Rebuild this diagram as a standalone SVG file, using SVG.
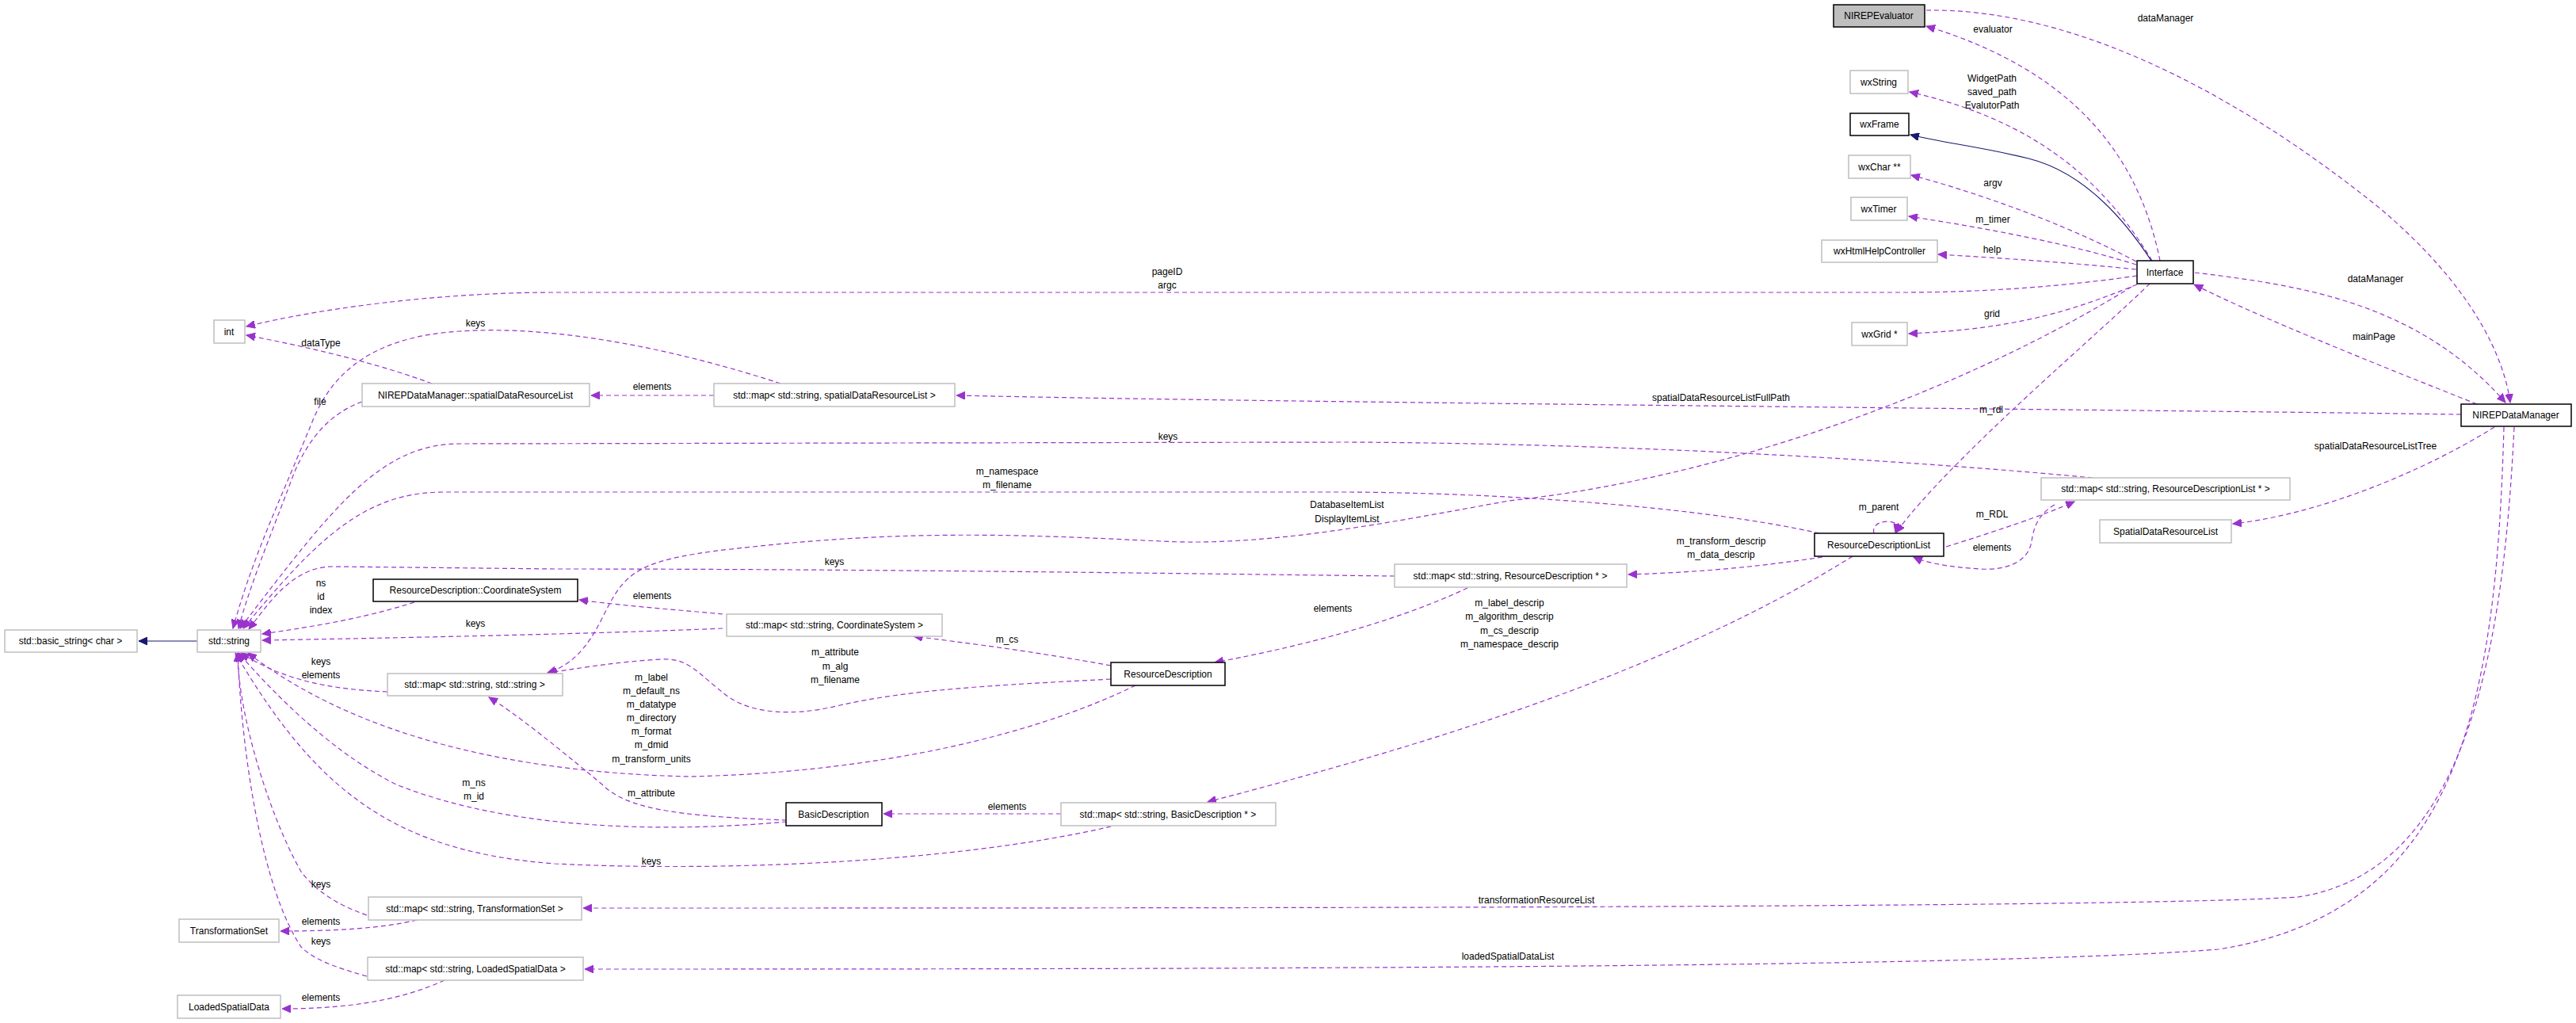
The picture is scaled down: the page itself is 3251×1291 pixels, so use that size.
<svg xmlns="http://www.w3.org/2000/svg" width="3251" height="1291" viewBox="0 0 3251 1291">
<style>
text{font-family:"Liberation Sans",Arial,sans-serif;font-size:12px;fill:#000;text-anchor:middle}
.n rect{fill:#fff;stroke:#bfbfbf;stroke-width:1.5}
.b rect{fill:#fff;stroke:#000;stroke-width:1.5}
.g rect{fill:#bfbfbf;stroke:#000;stroke-width:1.5}
.e path{fill:none;stroke:#9a32cd;stroke-width:1.2;stroke-dasharray:6,4;marker-end:url(#ap)}
.e path.s{stroke:#191970;stroke-dasharray:none;marker-end:url(#an)}
</style>
<defs>
<marker id="ap" markerUnits="userSpaceOnUse" markerWidth="12" markerHeight="10" refX="11" refY="5" orient="auto"><path d="M0,0 L11,5 L0,10 Z" fill="#9a32cd" stroke="#9a32cd"/></marker>
<marker id="an" markerUnits="userSpaceOnUse" markerWidth="12" markerHeight="10" refX="11" refY="5" orient="auto"><path d="M0,0 L11,5 L0,10 Z" fill="#191970" stroke="#191970"/></marker>
</defs>
<rect width="3251" height="1291" fill="#fff"/>
<g id="connectors" class="e">
<path d="M2726,329 C2700,200 2620,90 2431,33"/>
<path d="M2431,13 C2600,10 2800,100 3000,260 C3120,360 3160,450 3168,508"/>
<path d="M2716,329 C2650,220 2560,150 2410,116"/>
<path class="s" d="M2715,329 C2670,260 2620,215 2560,200 C2500,185 2450,180 2411,170"/>
<path d="M2696,330 C2620,290 2520,250 2412,221"/>
<path d="M2696,334 C2620,310 2520,290 2409,273"/>
<path d="M2696,340 C2620,332 2530,326 2446,321"/>
<path d="M2697,348 C2600,362 2500,369 2400,369 L700,369 C550,369 400,390 311,412"/>
<path d="M2697,359 C2620,390 2550,415 2409,421"/>
<path d="M2713,358 C2650,420 2460,580 2393,672"/>
<path d="M2690,362 C2500,480 2200,600 1904,632 C1750,660 1600,690 1465,683 C1300,675 1150,668 950,690 C800,705 790,720 760,780 C740,820 720,840 691,849"/>
<path d="M3126,510 C3000,460 2850,400 2769,359"/>
<path d="M2770,344 C2900,360 3050,380 3162,508"/>
<path d="M3106,523 C2700,517 1600,508 1207,499"/>
<path d="M901,499 L746,499"/>
<path d="M985,484 C850,440 700,410 580,418 C470,425 420,470 395,530 C350,640 320,700 294,793"/>
<path d="M545,484 C480,460 400,440 311,423"/>
<path d="M457,507 C420,520 390,550 370,600 C340,680 315,740 301,793"/>
<path d="M2641,603 C2450,585 2100,560 1700,558 L580,560 C480,560 420,640 303,793"/>
<path d="M2296,673 C2150,640 1900,622 1700,621 L560,621 C460,621 400,680 307,793"/>
<path d="M1760,727 C1500,724 1100,718 700,718 L420,715 C370,715 340,760 314,794"/>
<path d="M523,760 C460,780 400,790 331,800"/>
<path d="M912,793 C750,800 500,805 331,808"/>
<path d="M912,775 C860,770 790,765 731,757"/>
<path d="M1402,840 C1320,825 1250,815 1153,803"/>
<path d="M1402,857 C1250,865 1150,870 1060,890 C1000,905 950,900 920,880 C880,850 870,830 835,832 C780,835 740,842 692,849"/>
<path d="M1433,865 C1300,930 1100,975 870,980 C650,975 450,930 313,824"/>
<path d="M993,1035 C850,1030 790,1020 760,990 C700,940 650,900 617,880"/>
<path d="M993,1037 C850,1050 650,1050 500,990 C420,950 350,880 301,824"/>
<path d="M1339,1027 L1115,1027"/>
<path d="M1402,1043 C1200,1090 900,1100 700,1090 C500,1075 400,1000 297,824"/>
<path d="M489,873 C420,870 360,860 304,824"/>
<path d="M2338,702 C2100,850 1800,940 1524,1012"/>
<path d="M2300,703 C2220,715 2150,722 2055,725"/>
<path d="M1852,742 C1750,790 1620,820 1533,836"/>
<path d="M2365,673 C2360,655 2395,655 2394,664 L2392,672"/>
<path d="M2456,690 C2520,670 2580,650 2618,633"/>
<path d="M2593,637 C2570,650 2566,670 2564,683 C2560,710 2530,720 2500,718 C2460,716 2430,710 2415,703"/>
<path d="M3148,539 C3050,600 2920,650 2818,661"/>
<path d="M3173,539 C3160,800 3120,1100 2900,1132 C2700,1146 1500,1146 736,1146"/>
<path d="M3160,539 C3150,900 3100,1150 2800,1198 C2500,1222 1500,1223 738,1223"/>
<path d="M463,1155 C420,1140 395,1120 380,1100 C340,1030 300,900 300,824"/>
<path d="M526,1161 C480,1172 420,1175 354,1175"/>
<path d="M463,1232 C420,1220 395,1210 380,1195 C330,1120 305,950 300,824"/>
<path d="M561,1237 C500,1265 430,1273 356,1273"/>
<path class="s" d="M249,809 L175,809"/>
</g>
<g id="labels">
<text x="2515" y="41">evaluator</text>
<text x="2733" y="27">dataManager</text>
<text x="2514" y="103">WidgetPath</text><text x="2514" y="120">saved_path</text><text x="2514" y="137">EvalutorPath</text>
<text x="2515" y="235">argv</text>
<text x="2515" y="281">m_timer</text>
<text x="2514" y="319">help</text>
<text x="1473" y="347">pageID</text><text x="1473" y="364">argc</text>
<text x="2514" y="400">grid</text>
<text x="2513" y="521">m_rdl</text>
<text x="1700" y="641">DatabaseItemList</text><text x="1700" y="659">DisplayItemList</text>
<text x="2996" y="429">mainPage</text>
<text x="2998" y="356">dataManager</text>
<text x="2172" y="506">spatialDataResourceListFullPath</text>
<text x="823" y="492">elements</text>
<text x="600" y="412">keys</text>
<text x="405" y="437">dataType</text>
<text x="404" y="511">file</text>
<text x="1474" y="555">keys</text>
<text x="1271" y="599">m_namespace</text><text x="1271" y="616">m_filename</text>
<text x="1053" y="713">keys</text>
<text x="405" y="740">ns</text><text x="405" y="757">id</text><text x="405" y="774">index</text>
<text x="600" y="791">keys</text>
<text x="823" y="756">elements</text>
<text x="1271" y="811">m_cs</text>
<text x="1054" y="827">m_attribute</text><text x="1054" y="845">m_alg</text><text x="1054" y="862">m_filename</text>
<text x="822" y="859">m_label</text><text x="822" y="876">m_default_ns</text><text x="822" y="893">m_datatype</text><text x="822" y="910">m_directory</text><text x="822" y="927">m_format</text><text x="822" y="944">m_dmid</text><text x="822" y="962">m_transform_units</text>
<text x="822" y="1005">m_attribute</text>
<text x="598" y="992">m_ns</text><text x="598" y="1009">m_id</text>
<text x="1271" y="1022">elements</text>
<text x="822" y="1091">keys</text>
<text x="405" y="839">keys</text><text x="405" y="856">elements</text>
<text x="1905" y="765">m_label_descrip</text><text x="1905" y="782">m_algorithm_descrip</text><text x="1905" y="800">m_cs_descrip</text><text x="1905" y="817">m_namespace_descrip</text>
<text x="2172" y="687">m_transform_descrip</text><text x="2172" y="704">m_data_descrip</text>
<text x="1682" y="772">elements</text>
<text x="2371" y="644">m_parent</text>
<text x="2514" y="653">m_RDL</text>
<text x="2514" y="695">elements</text>
<text x="2998" y="567">spatialDataResourceListTree</text>
<text x="1939" y="1140">transformationResourceList</text>
<text x="1903" y="1211">loadedSpatialDataList</text>
<text x="405" y="1120">keys</text>
<text x="405" y="1167">elements</text>
<text x="405" y="1192">keys</text>
<text x="405" y="1263">elements</text>
</g>
<g id="NIREPEvaluator" class="g"><rect x="2314" y="6" width="115" height="28"/><text x="2371" y="24">NIREPEvaluator</text></g>
<g id="wxString" class="n"><rect x="2335" y="89" width="73" height="29"/><text x="2371" y="108">wxString</text></g>
<g id="wxFrame" class="b"><rect x="2335" y="143" width="74" height="28"/><text x="2372" y="161">wxFrame</text></g>
<g id="wxChar" class="n"><rect x="2333" y="196" width="78" height="29"/><text x="2372" y="215">wxChar **</text></g>
<g id="wxTimer" class="n"><rect x="2336" y="249" width="71" height="29"/><text x="2371" y="268">wxTimer</text></g>
<g id="wxHtmlHelpController" class="n"><rect x="2299" y="303" width="146" height="28"/><text x="2372" y="321">wxHtmlHelpController</text></g>
<g id="Interface" class="b"><rect x="2697" y="329" width="71" height="29"/><text x="2732" y="348">Interface</text></g>
<g id="wxGrid" class="n"><rect x="2337" y="407" width="70" height="29"/><text x="2372" y="426">wxGrid *</text></g>
<g id="int" class="n"><rect x="270" y="404" width="39" height="29"/><text x="289" y="423">int</text></g>
<g id="spatialDataResourceListInner" class="n"><rect x="457" y="484" width="287" height="29"/><text x="600" y="503">NIREPDataManager::spatialDataResourceList</text></g>
<g id="mapSpatial" class="n"><rect x="901" y="484" width="304" height="29"/><text x="1053" y="503">std::map&lt; std::string, spatialDataResourceList &gt;</text></g>
<g id="stdstring" class="n"><rect x="249" y="795" width="80" height="28"/><text x="289" y="813">std::string</text></g>
<g id="basicstring" class="n"><rect x="6" y="795" width="167" height="28"/><text x="89" y="813">std::basic_string&lt; char &gt;</text></g>
<g id="CoordinateSystem" class="b"><rect x="471" y="731" width="258" height="28"/><text x="600" y="749">ResourceDescription::CoordinateSystem</text></g>
<g id="mapCS" class="n"><rect x="917" y="775" width="272" height="28"/><text x="1053" y="793">std::map&lt; std::string, CoordinateSystem &gt;</text></g>
<g id="mapStrStr" class="n"><rect x="489" y="850" width="221" height="28"/><text x="599" y="868">std::map&lt; std::string, std::string &gt;</text></g>
<g id="ResourceDescription" class="b"><rect x="1402" y="836" width="144" height="29"/><text x="1474" y="855">ResourceDescription</text></g>
<g id="ResourceDescriptionList" class="b"><rect x="2290" y="673" width="163" height="29"/><text x="2371" y="692">ResourceDescriptionList</text></g>
<g id="mapRD" class="n"><rect x="1760" y="712" width="293" height="29"/><text x="1906" y="731">std::map&lt; std::string, ResourceDescription * &gt;</text></g>
<g id="mapRDL" class="n"><rect x="2576" y="603" width="314" height="28"/><text x="2733" y="621">std::map&lt; std::string, ResourceDescriptionList * &gt;</text></g>
<g id="SpatialDataResourceList" class="n"><rect x="2650" y="656" width="166" height="29"/><text x="2733" y="675">SpatialDataResourceList</text></g>
<g id="NIREPDataManager" class="b"><rect x="3106" y="510" width="139" height="28"/><text x="3175" y="528">NIREPDataManager</text></g>
<g id="BasicDescription" class="b"><rect x="992" y="1013" width="121" height="29"/><text x="1052" y="1032">BasicDescription</text></g>
<g id="mapBD" class="n"><rect x="1339" y="1013" width="271" height="29"/><text x="1474" y="1032">std::map&lt; std::string, BasicDescription * &gt;</text></g>
<g id="mapTS" class="n"><rect x="465" y="1132" width="269" height="29"/><text x="599" y="1151">std::map&lt; std::string, TransformationSet &gt;</text></g>
<g id="TransformationSet" class="n"><rect x="226" y="1160" width="126" height="29"/><text x="289" y="1179">TransformationSet</text></g>
<g id="mapLSD" class="n"><rect x="464" y="1208" width="272" height="29"/><text x="600" y="1227">std::map&lt; std::string, LoadedSpatialData &gt;</text></g>
<g id="LoadedSpatialData" class="n"><rect x="224" y="1256" width="130" height="29"/><text x="289" y="1275">LoadedSpatialData</text></g>
</svg>
